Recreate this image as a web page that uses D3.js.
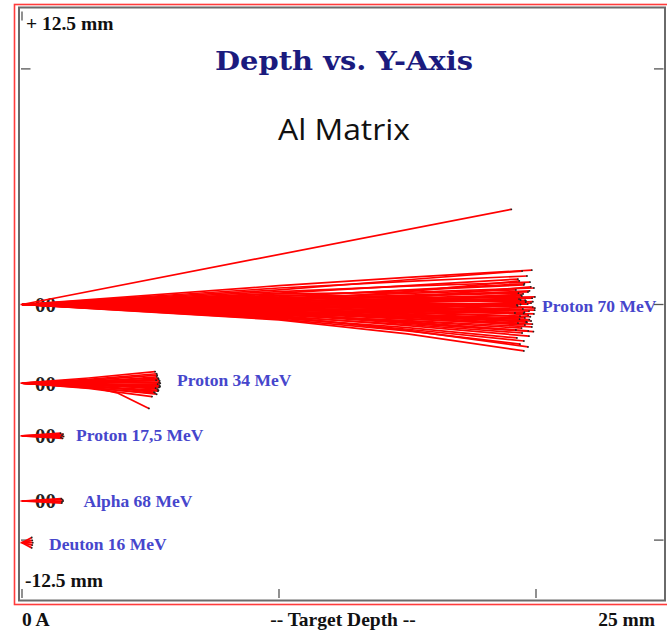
<!DOCTYPE html>
<html><head><meta charset="utf-8">
<script src="https://cdn.jsdelivr.net/npm/d3@7"></script>
<style>html,body{margin:0;padding:0;background:#fff;}svg{display:block}</style>
</head><body><svg id="c" width="667" height="634"></svg>
<script>
// ---------------- DATA ----------------
const chartTitle = "Depth vs. Y-Axis";
const subTitle = "Al Matrix";
const beamNames = ["Proton 70 MeV", "Proton 34 MeV", "Proton 17,5 MeV", "Alpha 68 MeV", "Deuton 16 MeV"];
const beamOffsets = [0, -3.34, -5.58, -8.34, -10.11];   // mm, y of beam entry
const beamStartLabels = ["00", "00", "00", "00", ""];
const xDomain = [0, 25];       // mm target depth
const yDomain = [12.5, -12.5]; // mm
const xTicks = [0, 10, 20];
const yTicks = [10, 0, -10];
const yTopLabel = "+ 12.5 mm";
const yBottomLabel = "-12.5 mm";
const xLeftLabel = "0 A";
const xMidLabel = "-- Target Depth --";
const xRightLabel = "25 mm";

// trajectories: [depth mm, lateral mm relative to beam entry]
const p70Tracks = [
  [[0,0],[10,0.80],[15,1.15],[19.84,1.46]],
  [[0,0],[10,0.62],[15,1.05],[19.46,1.42]],
  [[0,0],[10,0.70],[15,0.98],[19.65,1.21]],
  [[0,0],[10,0.48],[15,0.80],[19.30,1.08]],
  [[0,0],[10,0.55],[15,0.78],[19.77,0.95]],
  [[0,0],[10,0.36],[15,0.60],[19.53,0.83]],
  [[0,0],[10,0.45],[15,0.52],[19.92,0.70]],
  [[0,0],[10,0.28],[15,0.47],[19.22,0.62]],
  [[0,0],[10,0.20],[15,0.40],[19.69,0.53]],
  [[0,0],[10,0.30],[15,0.28],[19.42,0.40]],
  [[0,0],[10,0.12],[15,0.25],[19.96,0.32]],
  [[0,0],[10,0.18],[15,0.14],[19.34,0.23]],
  [[0,0],[10,0.05],[15,0.12],[19.61,0.15]],
  [[0,0],[10,0.10],[15,0.02],[19.81,0.06]],
  [[0,0],[10,-0.04],[15,0.05],[19.26,-0.02]],
  [[0,0],[10,0.02],[15,-0.06],[19.88,-0.11]],
  [[0,0],[10,-0.10],[15,-0.12],[19.49,-0.19]],
  [[0,0],[10,-0.06],[15,-0.20],[19.73,-0.28]],
  [[0,0],[10,-0.18],[15,-0.24],[19.18,-0.36]],
  [[0,0],[10,-0.14],[15,-0.30],[19.92,-0.40]],
  [[0,0],[10,-0.25],[15,-0.33],[19.38,-0.49]],
  [[0,0],[10,-0.20],[15,-0.42],[19.57,-0.57]],
  [[0,0],[10,-0.32],[15,-0.50],[19.81,-0.70]],
  [[0,0],[10,-0.38],[15,-0.55],[19.30,-0.79]],
  [[0,0],[10,-0.28],[15,-0.60],[19.57,-0.87]],
  [[0,0],[10,-0.45],[15,-0.68],[19.84,-0.95]],
  [[0,0],[10,-0.40],[15,-0.74],[19.22,-1.08]],
  [[0,0],[10,-0.52],[15,-0.85],[19.46,-1.21]],
  [[0,0],[10,-0.48],[15,-0.90],[19.73,-1.34]],
  [[0,0],[10,-0.58],[15,-0.98],[19.26,-1.42]],
  [[0,0],[10,-0.55],[15,-1.05],[19.53,-1.55]],
  [[0,0],[10,-0.62],[15,-1.12],[19.38,-1.68]],
  [[0,0],[10,-0.50],[15,-1.10],[19.69,-1.80]],
  [[0,0],[10,-0.65],[15,-1.25],[19.53,-1.97]],
  [[0,0],[10,0.40],[15,0.35],[19.60,0.10]],
  [[0,0],[10,-0.35],[15,-0.30],[19.40,0.00]],
  [[0,0],[10,0.25],[15,0.00],[19.70,-0.45]],
  [[0,0],[10,-0.22],[15,0.10],[19.50,0.45]],
  [[0,0],[10,0.08],[15,-0.40],[19.65,-0.75]],
  [[0,0],[10,-0.08],[15,0.30],[19.80,0.75]],
  [[0,0],[10,0.15],[15,0.55],[19.35,1.00]],
  [[0,0],[10,-0.42],[15,-0.80],[19.90,-1.15]],
  [[0,0],[10,0.33],[15,0.62],[19.55,0.88]],
  [[0,0],[10,0.22],[15,0.33],[19.75,0.58]],
  [[0,0],[10,0.14],[15,0.20],[19.45,0.36]],
  [[0,0],[10,0.06],[15,0.18],[19.85,0.27]],
  [[0,0],[10,0.00],[15,0.08],[19.40,0.19]],
  [[0,0],[10,-0.02],[15,-0.02],[19.68,0.02]],
  [[0,0],[10,-0.12],[15,-0.08],[19.28,-0.06]],
  [[0,0],[10,-0.08],[15,-0.15],[19.95,-0.24]],
  [[0,0],[10,-0.16],[15,-0.26],[19.55,-0.33]],
  [[0,0],[10,-0.22],[15,-0.36],[19.78,-0.52]],
  [[0,0],[10,-0.30],[15,-0.45],[19.36,-0.62]],
  [[0,0],[10,-0.26],[15,-0.52],[19.62,-0.74]],
  [[0,0],[10,-0.36],[15,-0.62],[19.86,-0.83]],
  [[0,0],[10,-0.44],[15,-0.70],[19.44,-1.00]],
  [[0,0],[10,-0.34],[15,-0.78],[19.70,-1.12]],
  [[0,0],[10,0.28],[15,0.20],[19.58,0.18]],
  [[0,0],[10,0.10],[15,0.36],[19.32,0.48]],
  [[0,0],[10,-0.18],[15,-0.10],[19.88,0.12]],
  [[0,0],[10,0.04],[15,-0.22],[19.52,-0.38]],
  [[0,0],[10,-0.10],[15,-0.46],[19.74,-0.64]],
  [[0,0],[10,0.18],[15,0.08],[19.96,-0.15]],
  [[0,0],[19.04,4.04]]
];
const p34Tracks = [
  [[0,0],[2.6,0.22],[5.18,0.49]],
  [[0,0],[2.6,0.12],[5.26,0.34]],
  [[0,0],[2.6,0.10],[5.30,0.21]],
  [[0,0],[2.6,0.02],[5.22,0.13]],
  [[0,0],[2.6,0.06],[5.34,0.04]],
  [[0,0],[2.6,-0.04],[5.28,-0.04]],
  [[0,0],[2.6,0.00],[5.37,-0.13]],
  [[0,0],[2.6,-0.08],[5.20,-0.21]],
  [[0,0],[2.6,-0.12],[5.31,-0.30]],
  [[0,0],[2.6,-0.10],[5.14,-0.38]],
  [[0,0],[2.6,-0.18],[5.24,-0.47]],
  [[0,0],[2.6,-0.22],[5.06,-0.57]],
  [[0,0],[2.6,-0.14],[3.70,-0.41],[4.94,-1.07]],
  [[0,0],[2.6,0.08],[5.36,0.10]],
  [[0,0],[2.6,-0.03],[5.33,-0.18]],
  [[0,0],[2.6,0.16],[5.24,0.40]],
  [[0,0],[2.6,0.04],[5.38,0.00]],
  [[0,0],[2.6,-0.06],[5.35,-0.08]],
  [[0,0],[2.6,-0.01],[5.27,-0.25]],
  [[0,0],[2.6,-0.15],[5.29,-0.34]],
  [[0,0],[2.6,0.03],[5.32,0.17]],
  [[0,0],[2.6,-0.09],[5.36,-0.16]],
  [[0,0],[2.6,0.05],[5.25,0.27]],
  [[0,0],[2.6,-0.20],[5.18,-0.42]]
];
const p17Tracks = [
  [[0,0],[1.60,0.08]],
  [[0,0],[1.56,0.03]],
  [[0,0],[1.62,-0.02]],
  [[0,0],[1.52,-0.06]],
  [[0,0],[1.58,-0.10]],
  [[0,0],[1.50,0.12]]
];
const alphaTracks = [
  [[0,0],[1.58,0.06]],
  [[0,0],[1.56,-0.04]],
  [[0,0],[1.60,0.00]],
  [[0,0],[1.53,0.10]],
  [[0,0],[1.55,-0.09]]
];
const deutonTracks = [
  [[0,0],[0.38,0.22]],
  [[0,0],[0.40,0.10]],
  [[0,0],[0.42,0.00]],
  [[0,0],[0.40,-0.10]],
  [[0,0],[0.38,-0.22]]
];
const allTracks = [p70Tracks, p34Tracks, p17Tracks, alphaTracks, deutonTracks];

// ---------------- LAYOUT ----------------
const svg = d3.select("#c");
const x = d3.scaleLinear().domain(xDomain).range([22, 664.5]);
const y = d3.scaleLinear().domain(yDomain).range([10, 599]);
const labelX = [542, 177, 76, 83.5, 49];      // px positions of beam labels
const labelDy = [7, 3, 5, 6, 7];

svg.append("rect").attr("width",667).attr("height",634).attr("fill","#fff");
// frames
svg.append("rect").attr("x",14.5).attr("y",4.5).attr("width",662).attr("height",600)
   .attr("fill","none").attr("stroke","#ff3b3b").attr("stroke-width",1.6);
svg.append("rect").attr("x",19).attr("y",7.5).attr("width",646).attr("height",593)
   .attr("fill","none").attr("stroke","#6a6a6a").attr("stroke-width",2);

// ticks
const tk = svg.append("g").attr("stroke","#555").attr("stroke-width",1.3);
xTicks.forEach(t => {
  tk.append("line").attr("x1",x(t)).attr("x2",x(t)).attr("y1",589).attr("y2",598);
});
tk.append("line").attr("x1",x(0)).attr("x2",x(0)).attr("y1",11.5).attr("y2",20.5);
yTicks.forEach(t => {
  tk.append("line").attr("x1",21).attr("x2",30.5).attr("y1",y(t)).attr("y2",y(t));
  tk.append("line").attr("x1",654).attr("x2",663.5).attr("y1",y(t)).attr("y2",y(t));
});

// titles
svg.append("text").attr("x",344).attr("y",70).attr("text-anchor","middle")
  .attr("font-family","DejaVu Serif").attr("font-weight","bold").attr("font-size",26.5)
  .attr("fill","#1b1b7e").attr("textLength",258).attr("lengthAdjust","spacingAndGlyphs")
  .text(chartTitle);
svg.append("text").attr("x",344).attr("y",140).attr("text-anchor","middle")
  .attr("font-family","Open Sans").attr("font-size",29)
  .attr("fill","#111").attr("textLength",132).attr("lengthAdjust","spacingAndGlyphs")
  .text(subTitle);

// axis labels
const ax = svg.append("g").attr("font-family","Liberation Serif").attr("font-weight","bold")
  .attr("font-size",19.5).attr("fill","#111");
ax.append("text").attr("x",26).attr("y",29.5).text(yTopLabel);
ax.append("text").attr("x",25).attr("y",587).text(yBottomLabel);
ax.append("text").attr("x",22).attr("y",626).text(xLeftLabel);
ax.append("text").attr("x",343).attr("y",626).attr("text-anchor","middle").text(xMidLabel);
ax.append("text").attr("x",655).attr("y",626).attr("text-anchor","end").text(xRightLabel);

// "00" start labels
beamOffsets.forEach((o,i) => {
  if (!beamStartLabels[i]) return;
  svg.append("text").attr("x",35).attr("y",y(o)+7.5)
    .attr("font-family","Liberation Serif").attr("font-weight","bold").attr("font-size",21)
    .attr("fill","#222").text(beamStartLabels[i]);
});

// trajectories
const line = d3.line();
const tg = svg.append("g").attr("fill","none").attr("stroke","#ff0000").attr("stroke-width",1.7)
  .attr("stroke-linejoin","round");
allTracks.forEach((tracks,i) => {
  const o = beamOffsets[i];
  tg.append("path").attr("d", line([[x(0)-1.5, y(o)],[x(0), y(o)]]));
  tracks.forEach(tr => {
    tg.append("path").attr("d", line(tr.map(p => [x(p[0]), y(o + p[1])])));
  });
});
// track end markers
const eg = svg.append("g").attr("fill","#222");
allTracks.forEach((tracks,i) => {
  const o = beamOffsets[i];
  tracks.forEach(tr => {
    const p = tr[tr.length-1];
    eg.append("circle").attr("cx",x(p[0])).attr("cy",y(o+p[1])).attr("r",0.9);
  });
});

// beam labels
beamNames.forEach((n,i) => {
  svg.append("text").attr("x",labelX[i]).attr("y",y(beamOffsets[i])+labelDy[i])
    .attr("font-family","Liberation Serif").attr("font-weight","bold").attr("font-size",17.5)
    .attr("fill","#4646cc").text(n);
});
</script></body></html>
